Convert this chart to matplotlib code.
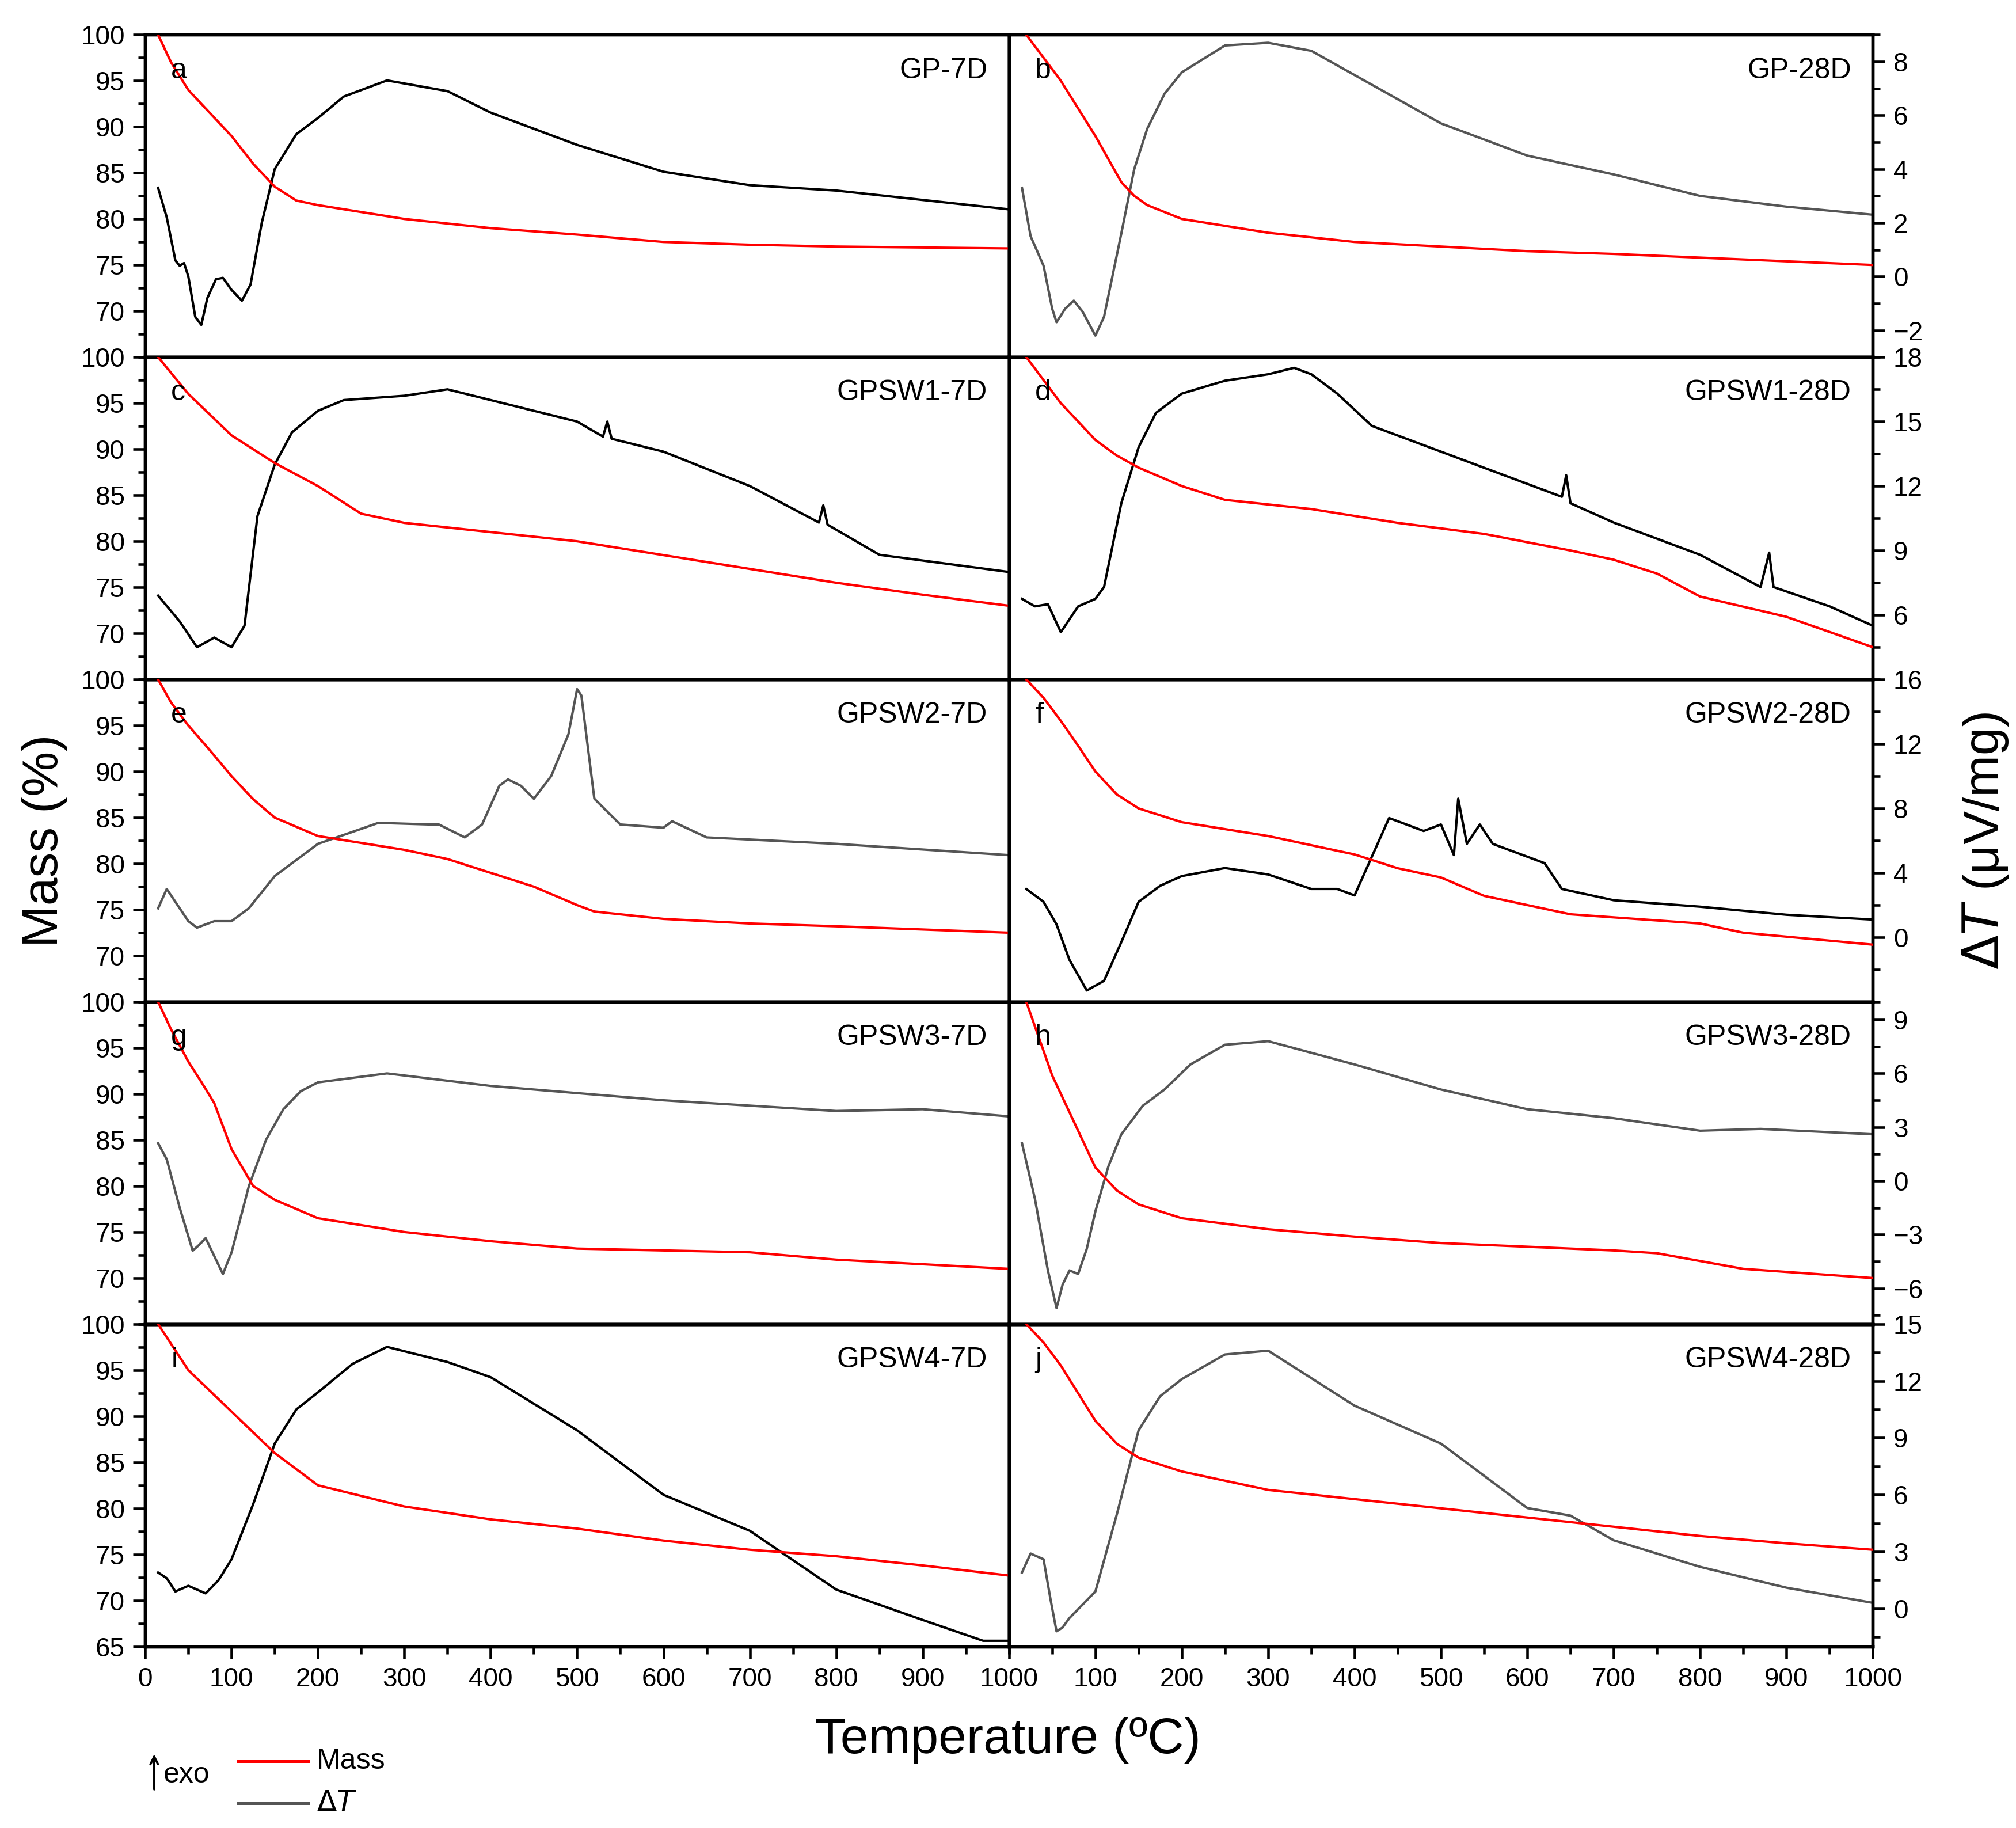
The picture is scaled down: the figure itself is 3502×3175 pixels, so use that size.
import matplotlib
matplotlib.use("Agg")
import matplotlib.pyplot as plt
from matplotlib.ticker import MultipleLocator, FixedLocator
import numpy as np

plt.rcParams['font.family'] = 'Liberation Sans'

names = ["GP-7D", "GP-28D", "GPSW1-7D", "GPSW1-28D", "GPSW2-7D", "GPSW2-28D",
         "GPSW3-7D", "GPSW3-28D", "GPSW4-7D", "GPSW4-28D"]
letters = list("abcdefghij")

mass_T = {
 'a': [15,30,50,75,100,125,150,175,200,300,400,500,600,700,800,1000],
 'b': [20,40,60,80,100,115,130,145,160,200,300,400,500,600,700,800,900,1000],
 'c': [15,50,100,150,200,250,300,400,500,600,700,800,900,1000],
 'd': [20,60,100,125,150,200,250,350,450,550,650,700,750,800,900,1000],
 'e': [15,30,50,75,100,125,150,200,300,350,400,450,500,520,600,700,800,1000],
 'f': [20,40,60,80,100,125,150,200,300,400,450,500,550,650,800,850,1000],
 'g': [15,30,50,65,80,100,125,150,200,300,400,500,700,800,1000],
 'h': [20,35,50,65,80,100,125,150,200,300,400,500,700,750,850,1000],
 'i': [15,50,100,150,200,300,400,500,600,700,800,900,1000],
 'j': [20,40,60,80,100,125,150,200,300,400,500,600,700,800,900,1000],
}
mass_V = {
 'a': [100,97,94,91.5,89,86,83.5,82,81.5,80,79,78.3,77.5,77.2,77,76.8],
 'b': [100,97.5,95,92,89,86.5,84,82.5,81.5,80,78.5,77.5,77,76.5,76.2,75.8,75.4,75],
 'c': [100,96,91.5,88.5,86,83,82,81,80,78.5,77,75.5,74.2,73],
 'd': [100,95,91,89.3,88,86,84.5,83.5,82,80.8,79,78,76.5,74,71.8,68.5],
 'e': [100,97.5,95,92.3,89.5,87,85,83,81.5,80.5,79,77.5,75.5,74.8,74,73.5,73.2,72.5],
 'f': [100,98,95.5,92.8,90,87.5,86,84.5,83,81,79.5,78.5,76.5,74.5,73.5,72.5,71.2],
 'g': [100,97,93.5,91.3,89,84,80,78.5,76.5,75,74,73.2,72.8,72,71],
 'h': [100,96,92,89,86,82,79.5,78,76.5,75.3,74.5,73.8,73,72.7,71,70],
 'i': [100,95,90.5,86,82.5,80.2,78.8,77.8,76.5,75.5,74.8,73.8,72.7],
 'j': [100,98,95.5,92.5,89.5,87,85.5,84,82,81,80,79,78,77,76.2,75.5],
}
dt_T = {
 'a': [15,25,35,40,45,50,58,65,72,82,90,100,112,122,135,150,175,200,230,280,350,400,500,600,700,800,1000],
 'b': [15,25,40,50,55,65,75,85,100,110,130,145,160,180,200,250,300,350,400,500,600,700,800,900,1000],
 'c': [15,40,60,80,100,115,130,150,170,200,230,300,350,400,500,530,535,540,600,700,780,785,790,850,1000],
 'd': [15,30,45,60,80,100,110,130,150,170,200,250,300,330,350,380,420,500,560,640,645,650,700,800,870,880,885,950,1000],
 'e': [15,25,35,50,60,80,100,120,150,200,270,330,340,370,390,400,410,420,435,450,470,490,500,505,512,520,550,600,610,650,800,1000],
 'f': [20,40,55,70,90,110,130,150,175,200,250,300,350,380,400,440,480,500,515,520,530,545,560,620,640,700,800,900,1000],
 'g': [15,25,40,55,62,70,80,90,100,120,140,160,180,200,280,400,500,600,700,800,900,1000],
 'h': [15,30,45,55,62,70,80,90,100,115,130,155,180,210,250,300,400,500,600,700,800,870,1000],
 'i': [15,25,35,50,70,85,100,125,150,175,200,240,280,350,400,500,600,700,800,900,970,1000],
 'j': [15,25,40,48,55,62,70,100,125,150,175,200,250,300,400,500,600,650,700,800,900,1000],
}
dt_V = {
 'a': [3.3,2.2,0.6,0.4,0.5,0.0,-1.5,-1.8,-0.8,-0.1,-0.05,-0.5,-0.9,-0.3,2.0,4.0,5.3,5.9,6.7,7.3,6.9,6.1,4.9,3.9,3.4,3.2,2.5],
 'b': [3.3,1.5,0.4,-1.2,-1.7,-1.2,-0.9,-1.3,-2.2,-1.5,1.6,4.0,5.5,6.8,7.6,8.6,8.7,8.4,7.5,5.7,4.5,3.8,3.0,2.6,2.3],
 'c': [6.9,5.7,4.5,4.95,4.5,5.5,10.6,13.0,14.5,15.5,16.0,16.2,16.5,16.0,15.0,14.3,15.0,14.2,13.6,12.0,10.3,11.1,10.2,8.8,8.0],
 'd': [6.75,6.4,6.5,5.2,6.4,6.75,7.3,11.2,13.8,15.4,16.3,16.9,17.2,17.5,17.2,16.3,14.8,13.6,12.7,11.5,12.5,11.2,10.3,8.8,7.3,8.9,7.3,6.4,5.5],
 'e': [1.8,3.0,2.2,1.0,0.6,1.0,1.0,1.8,3.8,5.8,7.1,7.0,7.0,6.2,7.0,8.2,9.4,9.8,9.4,8.6,10.0,12.6,15.4,15.0,12.0,8.6,7.0,6.8,7.2,6.2,5.8,5.1],
 'f': [3.0,2.2,0.8,-1.4,-3.3,-2.7,-0.3,2.2,3.2,3.8,4.3,3.9,3.0,3.0,2.6,7.4,6.6,7.0,5.1,8.6,5.8,7.0,5.8,4.6,3.0,2.3,1.9,1.4,1.1],
 'g': [2.1,1.2,-1.5,-3.9,-3.6,-3.2,-4.2,-5.2,-4.0,-0.3,2.3,4.0,5.0,5.5,6.0,5.3,4.9,4.5,4.2,3.9,4.0,3.6],
 'h': [2.1,-1.0,-5.0,-7.1,-5.8,-5.0,-5.2,-3.8,-1.7,0.8,2.6,4.2,5.1,6.5,7.6,7.8,6.5,5.1,4.0,3.5,2.8,2.9,2.6],
 'i': [1.9,1.6,0.9,1.2,0.8,1.5,2.6,5.5,8.7,10.5,11.4,12.9,13.8,13.0,12.2,9.4,6.0,4.1,1.0,-0.6,-1.7,-1.7],
 'j': [1.9,2.9,2.6,0.5,-1.2,-1.0,-0.5,0.9,5.0,9.4,11.2,12.1,13.4,13.6,10.7,8.7,5.3,4.9,3.6,2.2,1.1,0.3],
}
dt_color = {'a':'black','b':'#555555','c':'black','d':'black','e':'#555555',
            'f':'black','g':'#555555','h':'#555555','i':'black','j':'#555555'}

dt_lims = [(-3, 9), (3, 18), (-4, 16), (-8, 10), (-2, 15)]
dt_major = [2, 3, 4, 3, 3]
dt_ticks = [list(range(-2, 9, 2)), list(range(6, 19, 3)), list(range(0, 17, 4)),
            list(range(-6, 10, 3)), list(range(0, 16, 3))]

fig = plt.figure(figsize=(3502/300, 3175/300), dpi=300)
L, R, T, B = 0.072, 0.929, 0.981, 0.0993
W = (R - L) / 2
H = (T - B) / 5
lw_sp = 1.3
for k, let in enumerate(letters):
    row, col = divmod(k, 2)
    ax = fig.add_axes([L + col * W, T - (row + 1) * H, W, H])
    ax2 = ax.twinx()
    ax.plot(mass_T[let], mass_V[let], color='#ff0000', lw=1.0, zorder=3)
    ax2.plot(dt_T[let], dt_V[let], color=dt_color[let], lw=1.0)
    ax.set_zorder(ax2.get_zorder() + 1)
    ax.patch.set_visible(False)
    ax.set_xlim(0, 1000)
    ax.set_ylim(65, 100)
    ax2.set_ylim(*dt_lims[row])
    for a in (ax, ax2):
        for s in a.spines.values():
            s.set_linewidth(lw_sp)
    ax.tick_params(which='both', direction='out', width=1.1, labelsize=11, top=False, right=False)
    ax.tick_params(which='major', length=5)
    ax.tick_params(which='minor', length=3)
    ax2.tick_params(which='both', direction='out', width=1.1, labelsize=11)
    ax2.tick_params(which='major', length=5)
    ax2.tick_params(which='minor', length=3)
    if col == 0:
        yt = [70, 75, 80, 85, 90, 95, 100] if row < 4 else [65, 70, 75, 80, 85, 90, 95, 100]
        ax.yaxis.set_major_locator(FixedLocator(yt))
        ax.yaxis.set_minor_locator(MultipleLocator(2.5))
        ax2.set_yticks([])
        ax2.tick_params(which='both', right=False, labelright=False)
    else:
        ax.set_yticks([])
        ax.tick_params(which='both', left=False, labelleft=False)
        ax2.yaxis.set_major_locator(FixedLocator(dt_ticks[row]))
        ax2.yaxis.set_minor_locator(MultipleLocator(dt_major[row] / 2))
    if row == 4:
        xt = list(range(0, 1001, 100)) if col == 0 else list(range(100, 1001, 100))
        ax.xaxis.set_major_locator(FixedLocator(xt))
        ax.xaxis.set_minor_locator(MultipleLocator(50))
    else:
        ax.set_xticks([])
        ax.tick_params(which='both', bottom=False, labelbottom=False)
    ax.text(0.03, 0.93, let, transform=ax.transAxes, fontsize=12, va='top', ha='left')
    ax.text(0.975, 0.93, names[k], transform=ax.transAxes, fontsize=12, va='top', ha='right')

fig.text(0.022, (T + B) / 2, 'Mass (%)', rotation=90, fontsize=21, va='center', ha='center')
fig.text(0.985, (T + B) / 2, r'$\Delta$$\it{T}$ (μV/mg)', rotation=90, fontsize=21, va='center', ha='center')
fig.text(0.5, 0.048, 'Temperature (ºC)', fontsize=21, ha='center', va='center')

# legend
fig.add_artist(matplotlib.patches.FancyArrowPatch((0.0765, 0.0185), (0.0765, 0.043),
               transform=fig.transFigure, arrowstyle='->', mutation_scale=8, lw=0.9, color='black'))
fig.text(0.081, 0.029, 'exo', fontsize=12, va='center', ha='left')
fig.add_artist(plt.Line2D([0.118, 0.153], [0.0365, 0.0365], transform=fig.transFigure, color='red', lw=1.2))
fig.add_artist(plt.Line2D([0.118, 0.153], [0.0135, 0.0135], transform=fig.transFigure, color='#555555', lw=1.2))
fig.text(0.157, 0.0365, 'Mass', fontsize=12, va='center', ha='left')
fig.text(0.157, 0.0135, r'$\Delta$$\it{T}$', fontsize=12, va='center', ha='left')

fig.savefig('out.png', dpi=300)
